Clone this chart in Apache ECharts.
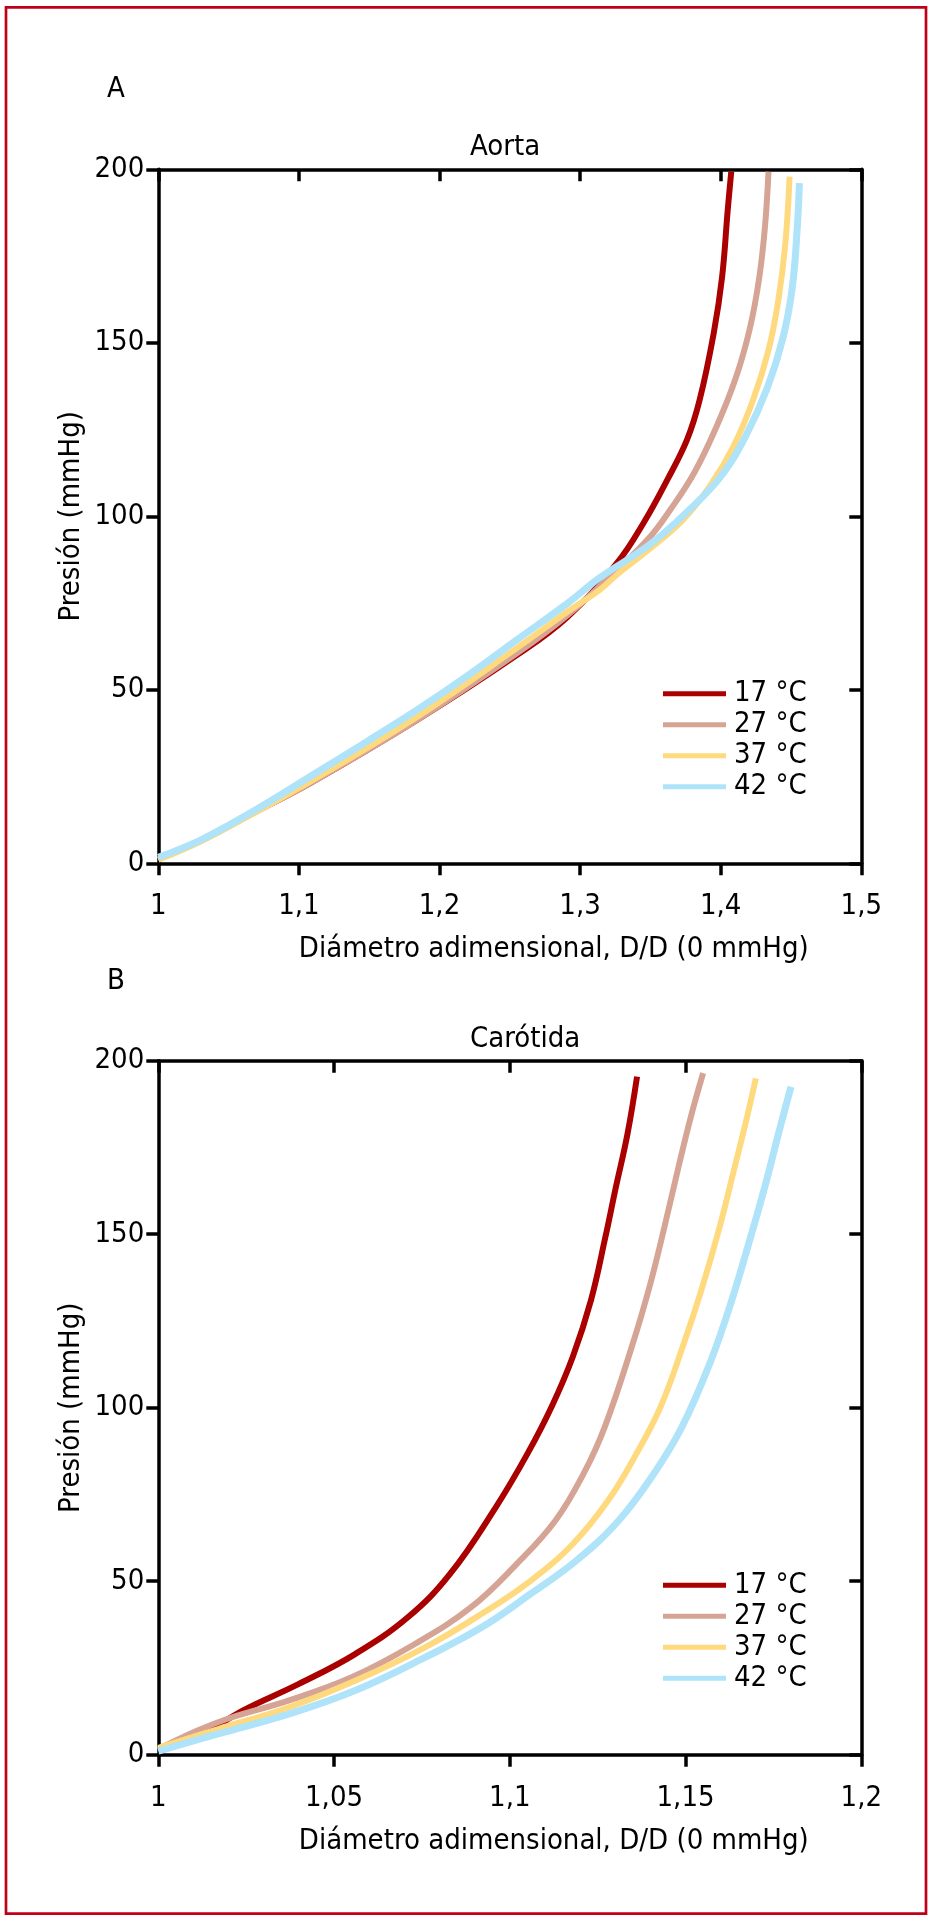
<!DOCTYPE html>
<html><head><meta charset="utf-8">
<script src="https://cdn.jsdelivr.net/npm/echarts@6/dist/echarts.min.js"></script>
<style>html,body{margin:0;padding:0;background:#fff}#c{width:936px;height:1924px}</style>
</head><body><div id="c"></div>
<script>
const seriesNames = ['17 °C', '27 °C', '37 °C', '42 °C'];
const seriesColors = ['#aa0000', '#d6a495', '#ffd97e', '#aee3f9'];
const panelTitles = ['Aorta', 'Carótida'];
const panelLetters = ['A', 'B'];
const yAxisName = 'Presión (mmHg)';
const xAxisName = 'Diámetro adimensional, D/D (0 mmHg)';
const yTickLabels = ['0', '50', '100', '150', '200'];
const xTickLabelsA = ['1', '1,1', '1,2', '1,3', '1,4', '1,5'];
const xTickLabelsB = ['1', '1,05', '1,1', '1,15', '1,2'];

// Aorta: [D/D0, presión mmHg]
const aorta17 = [[1.000,1.5],[1.030,6.6],[1.065,14.0],[1.108,23.1],[1.184,41.3],[1.255,60.0],[1.291,71.0],[1.326,86.4],[1.345,98.0],[1.362,110.5],[1.376,122.0],[1.385,133.5],[1.395,152.7],[1.401,169.0],[1.405,188.3],[1.4075,199.3]];
const aorta27 = [[1.000,1.2],[1.030,6.4],[1.065,13.9],[1.108,23.1],[1.184,41.3],[1.255,60.5],[1.291,71.5],[1.326,84.5],[1.350,94.2],[1.364,101.8],[1.381,112.4],[1.397,125.8],[1.411,140.2],[1.421,154.6],[1.4275,169.0],[1.4315,183.5],[1.434,199.3]];
const aorta37 = [[1.000,1.0],[1.030,6.3],[1.065,13.8],[1.108,23.5],[1.184,42.2],[1.255,62.0],[1.291,72.5],[1.314,78.8],[1.326,83.1],[1.350,90.8],[1.373,98.9],[1.392,108.5],[1.409,120.1],[1.423,133.5],[1.434,147.9],[1.441,162.3],[1.446,178.7],[1.449,197.9]];
const aorta42 = [[1.000,1.7],[1.030,6.7],[1.065,14.4],[1.108,25.0],[1.148,35.0],[1.184,44.2],[1.219,53.8],[1.255,64.4],[1.291,74.9],[1.314,82.3],[1.350,92.0],[1.378,102.0],[1.400,111.4],[1.4175,122.9],[1.4335,137.4],[1.4445,151.8],[1.451,166.2],[1.4545,183.5],[1.456,196.0]];

// Carótida
const carotida17 = [[1.000,1.6],[1.011,5.0],[1.024,12.7],[1.040,20.4],[1.056,29.0],[1.071,39.6],[1.083,52.1],[1.096,71.3],[1.105,86.7],[1.112,100.5],[1.1179,114.6],[1.1231,131.0],[1.1272,149.2],[1.1300,162.7],[1.1335,179.0],[1.1362,195.4]];
const carotida27 = [[1.000,1.6],[1.011,6.9],[1.021,10.8],[1.037,15.6],[1.055,22.3],[1.073,31.9],[1.089,42.5],[1.102,55.0],[1.113,67.5],[1.121,81.0],[1.127,94.4],[1.135,118.5],[1.140,135.8],[1.144,152.1],[1.148,169.4],[1.1515,183.8],[1.155,196.4]];
const carotida37 = [[1.000,2.0],[1.017,7.4],[1.037,13.6],[1.056,21.3],[1.076,31.0],[1.092,40.6],[1.106,50.2],[1.118,60.8],[1.128,73.3],[1.136,86.7],[1.143,100.5],[1.1495,118.5],[1.1545,133.9],[1.1597,152.1],[1.1640,169.4],[1.1675,183.8],[1.1700,194.9]];
const carotida42 = [[1.000,1.0],[1.017,6.0],[1.037,11.7],[1.056,18.5],[1.076,28.1],[1.092,36.7],[1.106,46.4],[1.119,56.0],[1.131,67.5],[1.141,81.0],[1.149,94.5],[1.157,113.0],[1.163,130.5],[1.1688,150.2],[1.1728,164.6],[1.1767,180.0],[1.1800,192.5]];

const panels = [
  { data: [aorta17, aorta27, aorta37, aorta42], xMin: 1, xMax: 1.5, xStep: 0.1, xLabels: xTickLabelsA, top: 169.3 },
  { data: [carotida17, carotida27, carotida37, carotida42], xMin: 1, xMax: 1.2, xStep: 0.05, xLabels: xTickLabelsB, top: 1060.7 }
];

const FONT = '"DejaVu Sans Condensed", "Liberation Sans", Arial, sans-serif';
const FS = 29;
const AXW = 3.5;
const lineStyleAx = { color: '#000', width: AXW };
const PH = 694;

const grid = [], xAxis = [], yAxis = [], series = [], title = [], legend = [], graphic = [];
panels.forEach((p, i) => {
  grid.push({ left: 158.3, right: 74.7, top: p.top, height: PH });
  const xl = p.xLabels;
  xAxis.push({
    gridIndex: i, type: 'value', min: p.xMin, max: p.xMax, interval: p.xStep, position: 'bottom',
    axisLine: { onZero: false, lineStyle: lineStyleAx },
    axisTick: { inside: false, length: 12, lineStyle: lineStyleAx },
    axisLabel: { margin: 29, fontSize: FS, color: '#000', fontFamily: FONT, showMinLabel: true, showMaxLabel: true,
      formatter: v => xl[Math.round((v - p.xMin) / p.xStep)] },
    splitLine: { show: false },
    name: xAxisName, nameLocation: 'middle', nameGap: 72, nameMoveOverlap: false,
    nameTextStyle: { fontSize: FS, color: '#000', fontFamily: FONT, padding: [0, 0, 0, 88] }
  });
  xAxis.push({
    gridIndex: i, type: 'value', min: p.xMin, max: p.xMax, interval: p.xStep, position: 'top',
    axisLine: { onZero: false, lineStyle: lineStyleAx },
    axisTick: { inside: true, length: 12, lineStyle: lineStyleAx },
    axisLabel: { show: false }, splitLine: { show: false }
  });
  yAxis.push({
    gridIndex: i, type: 'value', min: 0, max: 200, interval: 50, position: 'left',
    axisLine: { onZero: false, lineStyle: lineStyleAx },
    axisTick: { inside: false, length: 12, lineStyle: lineStyleAx },
    axisLabel: { margin: 14, fontSize: FS, color: '#000', fontFamily: FONT, showMinLabel: true, showMaxLabel: true,
      formatter: v => yTickLabels[Math.round(v / 50)] },
    splitLine: { show: false },
    name: yAxisName, nameLocation: 'middle', nameGap: 72, nameRotate: 90, nameMoveOverlap: false,
    nameTextStyle: { fontSize: FS, color: '#000', fontFamily: FONT }
  });
  yAxis.push({
    gridIndex: i, type: 'value', min: 0, max: 200, interval: 50, position: 'right',
    axisLine: { onZero: false, lineStyle: lineStyleAx },
    axisTick: { inside: true, length: 12, lineStyle: lineStyleAx },
    axisLabel: { show: false }, splitLine: { show: false }
  });
  p.data.forEach((d, k) => {
    series.push({
      name: seriesNames[k], type: 'line', xAxisIndex: i * 2, yAxisIndex: i * 2,
      data: d, smooth: 0.4, showSymbol: false, symbol: 'none',
      lineStyle: { color: seriesColors[k], width: k === 3 ? 7 : 6 },
      itemStyle: { color: seriesColors[k] }, z: 2 + k
    });
  });
  title.push({
    text: panelTitles[i], left: 470, top: p.top - 36, padding: 0,
    textStyle: { fontSize: FS, fontWeight: 'normal', color: '#000', fontFamily: FONT }
  });
  legend.push({
    data: seriesNames, orient: 'vertical', left: 663, top: p.top + PH - 184, padding: 0,
    itemWidth: 63, itemHeight: 5, itemGap: 2, icon: 'rect',
    textStyle: { fontSize: FS, color: '#000', fontFamily: FONT, padding: [0, 0, 0, 3] }
  });
  graphic.push({
    type: 'text', x: 107, y: i === 0 ? 89 : 981,
    style: { text: panelLetters[i], fontSize: FS, fontFamily: FONT, fill: '#000', verticalAlign: 'middle' }
  });
});
graphic.push({
  type: 'rect', shape: { x: 6, y: 7.3, width: 920, height: 1906.4 },
  style: { fill: 'none', stroke: '#c00018', lineWidth: 2.7 }
});

const chart = echarts.init(document.getElementById('c'), null, { renderer: 'canvas' });
chart.setOption({
  animation: false, backgroundColor: '#fff',
  grid, xAxis, yAxis, series, title, legend, graphic
});
</script></body></html>
